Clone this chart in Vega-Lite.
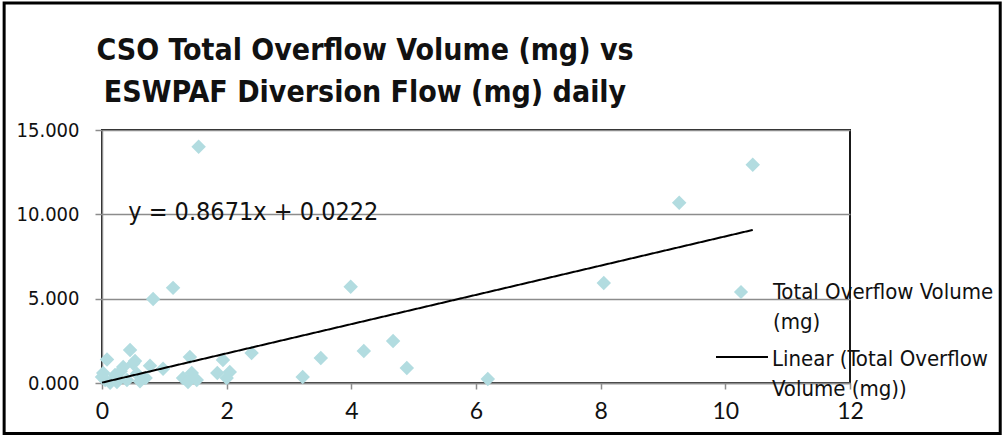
{
  "$schema": "https://vega.github.io/schema/vega-lite/v6.json",
  "width": 748,
  "height": 253,
  "autosize": {"type": "none"},
  "padding": {"left": 102, "top": 130, "right": 153, "bottom": 54},
  "background": "white",
  "title": {
    "text": ["CSO Total Overflow Volume (mg) vs", "ESWPAF Diversion Flow (mg) daily"],
    "anchor": "start",
    "align": "center",
    "baseline": "bottom",
    "dx": 263,
    "dy": 137,
    "font": "DejaVu Sans Condensed, Roboto, sans-serif",
    "fontWeight": "bold",
    "fontSize": 30,
    "lineHeight": 42,
    "color": "#111111",
    "offset": 0,
    "frame": "group"
  },
  "datasets": {
    "pts": [
      {"diversion": 1.55, "overflow": 14.0},
      {"diversion": 10.44, "overflow": 12.94},
      {"diversion": 9.26, "overflow": 10.68},
      {"diversion": 8.05, "overflow": 5.93},
      {"diversion": 3.99, "overflow": 5.70},
      {"diversion": 1.14, "overflow": 5.64},
      {"diversion": 0.82, "overflow": 4.98},
      {"diversion": 4.67, "overflow": 2.49},
      {"diversion": 4.20, "overflow": 1.90},
      {"diversion": 3.51, "overflow": 1.48},
      {"diversion": 4.89, "overflow": 0.89},
      {"diversion": 3.22, "overflow": 0.36},
      {"diversion": 6.19, "overflow": 0.24},
      {"diversion": 2.40, "overflow": 1.78},
      {"diversion": 1.94, "overflow": 1.37},
      {"diversion": 2.05, "overflow": 0.65},
      {"diversion": 2.00, "overflow": 0.30},
      {"diversion": 1.85, "overflow": 0.60},
      {"diversion": 1.41, "overflow": 1.54},
      {"diversion": 1.44, "overflow": 0.59},
      {"diversion": 1.30, "overflow": 0.30},
      {"diversion": 1.38, "overflow": 0.06},
      {"diversion": 1.52, "overflow": 0.18},
      {"diversion": 0.98, "overflow": 0.85},
      {"diversion": 0.77, "overflow": 1.02},
      {"diversion": 0.53, "overflow": 1.30},
      {"diversion": 0.45, "overflow": 1.96},
      {"diversion": 0.08, "overflow": 1.40},
      {"diversion": 0.34, "overflow": 0.95},
      {"diversion": 0.56, "overflow": 0.55},
      {"diversion": 0.61, "overflow": 0.10},
      {"diversion": 0.40, "overflow": 0.18},
      {"diversion": 0.21, "overflow": 0.47},
      {"diversion": 0.02, "overflow": 0.59},
      {"diversion": 0.05, "overflow": 0.18},
      {"diversion": 0.13, "overflow": 0.02},
      {"diversion": 0.24, "overflow": 0.06},
      {"diversion": 0.00, "overflow": 0.35},
      {"diversion": 0.50, "overflow": 1.15},
      {"diversion": 0.70, "overflow": 0.30},
      {"diversion": 0.30, "overflow": 0.70}
    ],
    "fit": [
      {"diversion": 0.0, "overflow": 0.0222},
      {"diversion": 10.44, "overflow": 9.075}
    ],
    "eq": [
      {"diversion": 0.42, "overflow": 9.66, "label": "y = 0.8671x + 0.0222"}
    ],
    "frame": [
      {"x1": -1.57, "x2": 14.41, "y1": 22.53, "y2": -3.0}
    ]
  },
  "config": {
    "view": {"stroke": "#1a1a1a", "strokeWidth": 2},
    "style": {"guide-label": {"lineHeight": 30}},
    "axis": {
      "domainColor": "#8c8c8c",
      "domainWidth": 1.5,
      "tickColor": "#8c8c8c",
      "tickWidth": 1.5,
      "labelColor": "#111111",
      "title": null
    },
    "legend": {
      "title": null,
      "padding": 0,
      "labelFont": "DejaVu Sans Condensed, Roboto, sans-serif",
      "labelFontSize": 22,
      "labelColor": "#111111",
      "labelLimit": 400
    }
  },
  "layer": [
    {
      "data": {"name": "frame"},
      "mark": {"type": "rect", "fill": null, "stroke": "#000000", "strokeWidth": 3, "clip": false},
      "encoding": {
        "x": {"field": "x1", "type": "quantitative", "scale": {"domain": [0, 12], "nice": false, "zero": false}},
        "x2": {"field": "x2"},
        "y": {"field": "y1", "type": "quantitative", "scale": {"domain": [0, 15], "nice": false, "zero": false}},
        "y2": {"field": "y2"}
      }
    },
    {
      "data": {"name": "pts"},
      "mark": {"type": "point", "shape": "diamond", "filled": true, "size": 210, "opacity": 1, "color": "#B2DCE0"},
      "encoding": {
        "x": {
          "field": "diversion", "type": "quantitative",
          "axis": {"values": [0, 2, 4, 6, 8, 10, 12], "format": "d", "grid": false, "tickSize": 6, "labelFont": "Lato", "labelFontSize": 23, "labelPadding": 11, "labelFlush": false}
        },
        "y": {
          "field": "overflow", "type": "quantitative",
          "axis": {"values": [0, 5, 10, 15], "format": ".3f", "grid": true, "gridColor": "#8c8c8c", "gridWidth": 1.5, "tickSize": 7, "labelFont": "DejaVu Sans Condensed, Roboto, sans-serif", "labelFontSize": 20, "labelPadding": 16, "labelFlush": false}
        },
        "shape": {
          "datum": "Total Overflow Volume (mg)",
          "scale": {"range": ["diamond"]},
          "legend": {
            "orient": "none",
            "legendX": 628,
            "legendY": 151,
            "symbolSize": 200,
            "symbolFillColor": "#B2DCE0",
            "symbolStrokeWidth": 0,
            "labelOffset": 21,
            "labelExpr": "['Total Overflow Volume', '(mg)']",
            "encode": {"labels": {"update": {"lineHeight": {"value": 30}, "dy": {"value": 15}}}}
          }
        }
      }
    },
    {
      "data": {"name": "fit"},
      "mark": {"type": "line", "strokeWidth": 2, "color": "#000000"},
      "encoding": {
        "x": {"field": "diversion", "type": "quantitative"},
        "y": {"field": "overflow", "type": "quantitative"},
        "strokeDash": {
          "datum": "Linear (Total Overflow Volume (mg))",
          "scale": {"range": [[1, 0]]},
          "legend": {
            "orient": "none",
            "legendX": 613,
            "legendY": 200,
            "symbolSize": 2700,
            "symbolStrokeColor": "#000000",
            "symbolStrokeWidth": 2,
            "labelOffset": 3,
            "labelExpr": "['Linear (Total Overflow', 'Volume (mg))']",
            "encode": {"labels": {"update": {"lineHeight": {"value": 30}, "dy": {"value": 2}}}}
          }
        }
      }
    },
    {
      "data": {"name": "eq"},
      "mark": {"type": "text", "align": "left", "baseline": "alphabetic", "font": "DejaVu Sans Condensed, Roboto, sans-serif", "fontSize": 25, "color": "#111111"},
      "encoding": {
        "x": {"field": "diversion", "type": "quantitative"},
        "y": {"field": "overflow", "type": "quantitative"},
        "text": {"field": "label"}
      }
    }
  ]
}
